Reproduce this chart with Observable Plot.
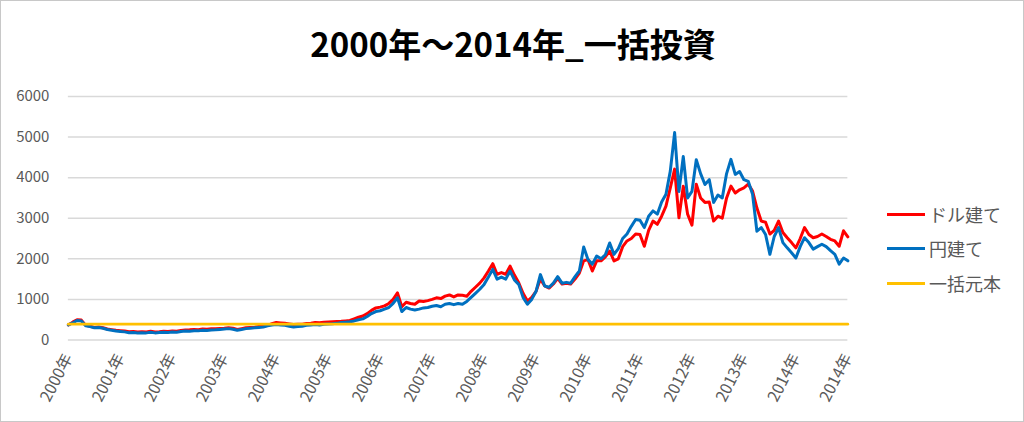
<!DOCTYPE html>
<html><head><meta charset="utf-8">
<script src="https://cdn.jsdelivr.net/npm/d3@7"></script>
<script src="https://cdn.jsdelivr.net/npm/@observablehq/plot@0.6"></script>
<style>
html,body{margin:0;padding:0;background:#fff;}
#wrap{position:relative;width:1024px;height:422px;box-sizing:border-box;border:1px solid #c8c8c8;overflow:hidden;font-family:"Noto Sans CJK JP","Noto Sans",sans-serif;}
#title{position:absolute;left:0;top:0;width:1024px;height:80px;text-align:center;line-height:84px;font-size:33px;font-weight:bold;color:#000;}
#chart{position:absolute;left:0;top:80px;}
#legend{position:absolute;left:886px;top:0;}
.item{position:absolute;left:0;display:flex;align-items:center;white-space:nowrap;font-size:18px;color:#595959;}
.sw{display:inline-block;width:38px;height:3px;margin-right:4px;}
</style></head>
<body><div id="wrap"><div id="title"></div><div id="chart"></div><div id="legend"></div></div>
<script>
const titleText = "2000年～2014年_一括投資";
const seriesNames = ["ドル建て", "円建て", "一括元本"];
const seriesColors = ["#ff0000", "#0070c0", "#ffc000"];
const xTickLabels = ["2000年","2001年","2002年","2003年","2004年","2005年","2006年","2007年","2008年","2009年","2010年","2011年","2012年","2013年","2014年","2014年"];
const yTicks = [0, 1000, 2000, 3000, 4000, 5000, 6000];
const principal = 390;
// monthly values, Jan 2000 .. Jan 2015
const usd = [
 370,440,500,490,360,340,310,320,300,270,255,240,
 230,220,205,210,200,205,200,215,200,205,215,210,
 220,215,235,245,250,260,255,270,265,275,280,285,
 290,300,290,260,280,300,310,315,330,335,360,400,
 430,420,410,395,380,385,390,405,415,430,425,440,
 445,450,455,460,470,480,520,560,590,650,730,790,
 810,840,900,1000,1160,820,930,900,880,960,950,970,
 1000,1040,1020,1080,1110,1060,1110,1100,1080,1200,1300,1400,
 1530,1700,1880,1620,1660,1620,1820,1600,1410,1150,960,1050,
 1200,1500,1330,1280,1380,1520,1380,1400,1380,1500,1650,1950,
 1980,1700,1950,1950,2050,2190,1950,2000,2300,2440,2500,2610,
 2600,2310,2700,2930,2850,3050,3300,3750,4210,3010,3790,3100,
 2830,3840,3500,3390,3400,2930,3050,3000,3500,3790,3620,3700,
 3750,3840,3670,3250,2930,2900,2610,2700,2930,2650,2520,2400,
 2270,2500,2770,2600,2520,2550,2610,2550,2480,2440,2310,2690,2540
];
const jpy = [
 370,420,480,470,350,330,300,310,290,260,240,220,
 210,200,180,185,170,180,175,190,175,185,190,185,
 195,190,210,220,215,230,225,240,235,245,250,260,
 270,280,265,240,260,280,290,300,310,320,350,370,
 380,370,360,340,320,330,340,360,370,380,370,390,
 395,400,410,430,440,450,470,500,520,580,650,700,
 720,760,800,900,1040,700,800,760,740,760,790,800,
 830,850,820,880,900,870,900,880,950,1050,1150,1250,
 1370,1550,1740,1500,1550,1500,1700,1480,1370,1050,880,1000,
 1200,1610,1330,1300,1400,1560,1400,1420,1400,1560,1700,2290,
 1980,1870,2070,2000,2100,2390,2110,2250,2500,2610,2800,2970,
 2950,2770,3050,3180,3100,3400,3590,4160,5110,3660,4520,3500,
 3660,4440,4100,3830,3950,3390,3570,3500,4100,4450,4080,4150,
 3950,3910,3590,2680,2770,2600,2110,2550,2770,2400,2270,2150,
 2020,2300,2520,2400,2240,2300,2360,2300,2200,2110,1870,2020,1950
];

document.getElementById("title").textContent = titleText;
const lastM = usd.length - 1;
const usdRows = usd.map((v, i) => ({m: i, v}));
const jpyRows = jpy.map((v, i) => ({m: i, v}));
const prRows = [{m: 0, v: principal}, {m: lastM, v: principal}];

const chart = Plot.plot({
  width: 1024, height: 342,
  marginTop: 15, marginBottom: 83, marginLeft: 67, marginRight: 176,
  style: {fontFamily: '"Noto Sans CJK JP","Noto Sans",sans-serif', fontSize: "15px", color: "#595959", background: "transparent"},
  x: {domain: [0, lastM], label: null},
  y: {domain: [0, 6000], label: null},
  marks: [
    Plot.gridY(yTicks, {stroke: "#d9d9d9", strokeOpacity: 1, strokeWidth: 1.5}),
    Plot.axisY(yTicks, {tickSize: 0, tickPadding: 19, tickFormat: d => String(d), fill: "#595959"}),
    Plot.axisX(d3.range(0, lastM + 1, 12), {tickSize: 0, tickPadding: 15, tickRotate: -63, fontSize: 16, tickFormat: d => xTickLabels[d / 12], fill: "#595959"}),
    Plot.line(usdRows, {x: "m", y: "v", stroke: seriesColors[0], strokeWidth: 3, curve: "linear"}),
    Plot.line(jpyRows, {x: "m", y: "v", stroke: seriesColors[1], strokeWidth: 3, curve: "linear"}),
    Plot.line(prRows, {x: "m", y: "v", stroke: seriesColors[2], strokeWidth: 2.6})
  ]
});
document.getElementById("chart").appendChild(chart);

const legendTops = [213, 247, 282];
const lg = document.getElementById("legend");
seriesNames.forEach((n, i) => {
  const it = document.createElement("div");
  it.className = "item";
  it.style.top = (legendTops[i] - 12) + "px";
  it.style.height = "24px";
  const sw = document.createElement("span");
  sw.className = "sw";
  sw.style.background = seriesColors[i];
  const tx = document.createElement("span");
  tx.textContent = n;
  it.appendChild(sw); it.appendChild(tx);
  lg.appendChild(it);
});
</script></body></html>
